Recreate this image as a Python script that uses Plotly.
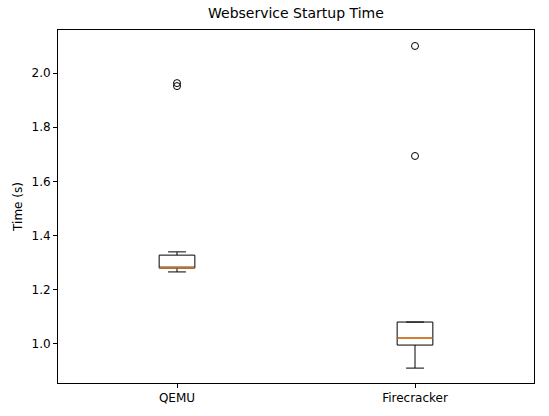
import plotly.graph_objects as go

categories = ["QEMU", "Firecracker"]
positions = [1, 2]
q1 = [1.280, 0.996]
median = [1.281, 1.022]
q3 = [1.328, 1.081]
lowerfence = [1.266, 0.911]
upperfence = [1.340, 1.081]
outliers = [[1.963, 1.952], [2.100, 1.694]]
yticks = [1.0, 1.2, 1.4, 1.6, 1.8, 2.0]

box_w = 0.15

fig = go.Figure()
for i, name in enumerate(categories):
    fig.add_trace(go.Box(
        x=[positions[i]], q1=[q1[i]], median=[median[i]], q3=[q3[i]],
        lowerfence=[lowerfence[i]], upperfence=[upperfence[i]],
        width=box_w, whiskerwidth=0.5, fillcolor="white",
        line=dict(color="black", width=1), boxpoints=False,
        showlegend=False, hoverinfo="skip",
    ))
    fig.add_trace(go.Scatter(
        x=[positions[i] - box_w / 2, positions[i] + box_w / 2],
        y=[median[i], median[i]], mode="lines",
        line=dict(color="#ff7f0e", width=1.3), showlegend=False, hoverinfo="skip",
    ))
    fig.add_trace(go.Scatter(
        x=[positions[i]] * len(outliers[i]), y=outliers[i], mode="markers",
        marker=dict(symbol="circle-open", size=7, color="black", line=dict(width=1)),
        showlegend=False, hoverinfo="skip",
    ))

fig.update_layout(
    width=549, height=416,
    margin=dict(l=58, r=15, t=30, b=33),
    paper_bgcolor="white", plot_bgcolor="white",
    font=dict(family="DejaVu Sans", size=12, color="black"),
    title=dict(text="Webservice Startup Time", x=0.539, xanchor="center",
               y=0.968, yanchor="middle", font=dict(size=14)),
    xaxis=dict(range=[0.5, 2.5], tickvals=positions, ticktext=categories,
               showgrid=False, zeroline=False, showline=True, linecolor="black",
               linewidth=1, mirror=True, ticks="outside", ticklen=4, tickcolor="black"),
    yaxis=dict(range=[0.856, 2.159], tickvals=yticks, tickformat=".1f",
               title=dict(text="Time (s)", standoff=6, font=dict(size=12)),
               showgrid=False, zeroline=False, showline=True, linecolor="black",
               linewidth=1, mirror=True, ticks="outside", ticklen=4, tickcolor="black"),
)

fig.write_html("out.html")
